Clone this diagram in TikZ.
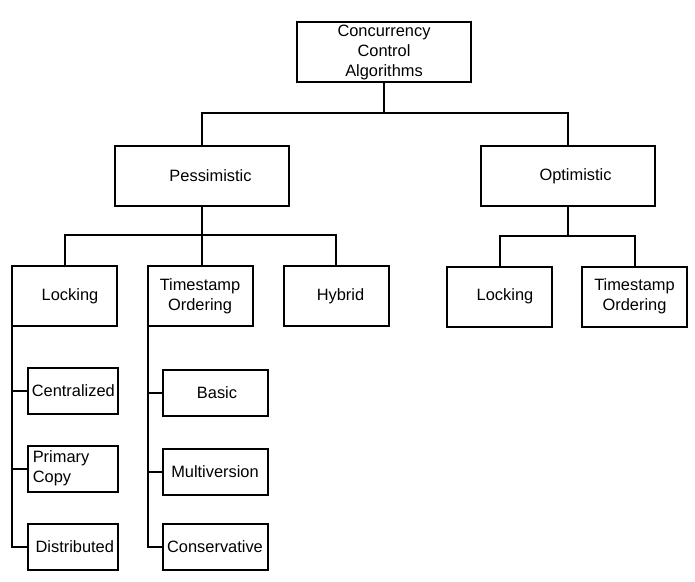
\documentclass[tikz,border=0pt]{standalone}
\usepackage{fontspec}
\setmainfont{Liberation Sans}

\tikzset{
    box/.style={draw, line width=2pt, inner sep=0pt, outer sep=0pt, align=center,
        font=\fontsize{16.4}{20}\selectfont},
    bigbox/.style={box, minimum width=174pt, minimum height=60pt},
    midbox/.style={box, minimum width=105pt, minimum height=60pt},
    subbox/.style={box, minimum width=90pt, minimum height=46pt},
    link/.style={line width=2pt}
}

\begin{document}
\begin{tikzpicture}[x=1pt, y=-1pt]
    \useasboundingbox (0,0) rectangle (695,581);

    % top levels
    \node[bigbox] (root) at (384,52) {Concurrency\\Control\\Algorithms};
    \node[bigbox] (pess) at (202,176) {\hspace*{17pt}Pessimistic};
    \node[bigbox] (opt) at (568,176) {\hspace*{15pt}Optimistic};

    \node[midbox] (lock) at (64.5,296) {\hspace*{11pt}Locking};
    \node[midbox] (ts) at (200,296) {Timestamp\\Ordering};
    \node[midbox] (hyb) at (336,296) {\hspace*{9pt}Hybrid};
    \node[midbox] (olock) at (499.5,296.5) {\hspace*{11pt}Locking};
    \node[midbox] (ots) at (634.5,296.5) {Timestamp\\Ordering};

    % leaves under locking and timestamp ordering
    \node[subbox] (cent) at (73.3,391) {Centralized};
    \node[subbox, align=left, text width=81pt] (prim) at (73.3,468.5) {Primary\\Copy};
    \node[subbox] (dist) at (73.3,546.5) {\hspace*{3pt}Distributed};
    \node[subbox, minimum width=105pt] (basic) at (215.5,392.5) {\hspace*{3pt}Basic};
    \node[subbox, minimum width=105pt] (multi) at (215,471.5) {Multiversion};
    \node[subbox, minimum width=105pt] (cons) at (215,546.5) {Conservative};

    % connectors
    \draw[link] (root.south) -- ++(0,31);
    \draw[link] (pess.north) -- ++(0,-33) -| (opt.north);

    \draw[link] (pess.south) -- (pess.south |- ts.north);
    \draw[link] (lock.north) -- ++(0,-31) -| (hyb.north);

    \draw[link] (opt.south) -- ++(0,29.5);
    \draw[link] (olock.north) -- ++(0,-31) -| (ots.north);

    \draw[link] (lock.south west) |- (dist.west);
    \draw[link] (lock.south west |- cent.west) -- (cent.west);
    \draw[link] (lock.south west |- prim.west) -- (prim.west);

    \draw[link] (ts.south west) |- (cons.west);
    \draw[link] (ts.south west |- basic.west) -- (basic.west);
    \draw[link] (ts.south west |- multi.west) -- (multi.west);
\end{tikzpicture}
\end{document}
